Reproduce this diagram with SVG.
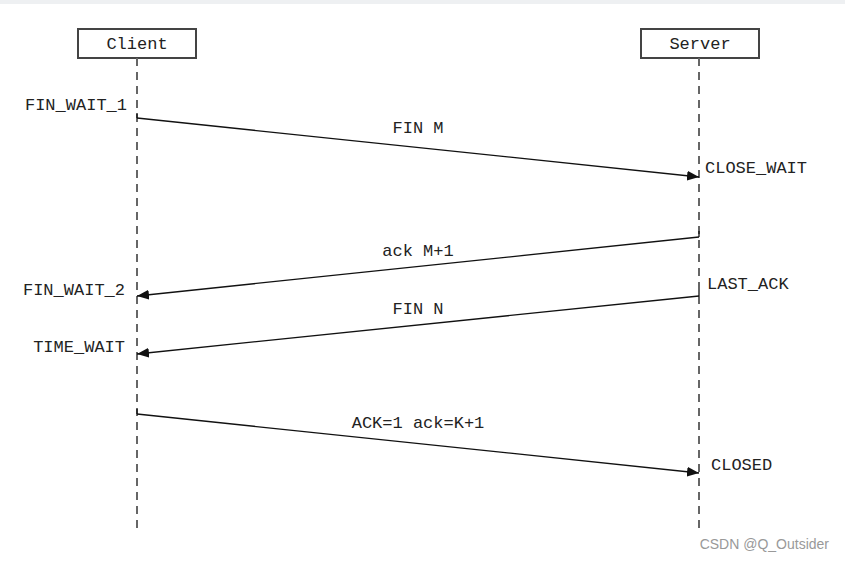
<svg xmlns="http://www.w3.org/2000/svg" width="845" height="561" viewBox="0 0 845 561">
<defs>
<style>
text{font-family:"Liberation Mono",monospace;font-size:17px;fill:#222}
.box{fill:#fff;stroke:#444;stroke-width:2}
.life{stroke:#666;stroke-width:2;stroke-dasharray:8,6;fill:none}
.msg{stroke:#111;stroke-width:1.3;fill:none;marker-end:url(#ah)}
.tick{stroke:#111;stroke-width:1.3;fill:none}
</style>
<marker id="ah" markerWidth="12" markerHeight="10" refX="12" refY="5" orient="auto" markerUnits="userSpaceOnUse"><path d="M0,0 L12,5 L0,10 z" fill="#111"/></marker>
</defs>
<rect width="845" height="561" fill="#fff"/>
<rect width="845" height="4" fill="#eef0f2"/>
<g id="client"><rect class="box" x="78" y="29" width="118" height="29"/><text x="137" y="49" text-anchor="middle">Client</text><line class="life" x1="137" y1="58" x2="137" y2="533"/></g>
<g id="server"><rect class="box" x="641" y="29" width="118" height="29"/><text x="700" y="49" text-anchor="middle">Server</text><line class="life" x1="699" y1="58" x2="699" y2="533"/></g>
<g id="connectors">
<path class="tick" d="M137,113 V118"/>
<line class="msg" x1="137" y1="118" x2="699" y2="177"/>
<path class="tick" d="M699,231 V237"/>
<line class="msg" x1="699" y1="237" x2="137" y2="296"/>
<path class="tick" d="M699,290 V296"/>
<line class="msg" x1="699" y1="296" x2="137" y2="354"/>
<path class="tick" d="M137,409 V414"/>
<line class="msg" x1="137" y1="414" x2="699" y2="473"/>
</g>
<g id="labels">
<text x="418" y="133" text-anchor="middle">FIN M</text>
<text x="418" y="256" text-anchor="middle">ack M+1</text>
<text x="418" y="314" text-anchor="middle">FIN N</text>
<text x="418" y="428" text-anchor="middle">ACK=1 ack=K+1</text>
<text x="127" y="110" text-anchor="end">FIN_WAIT_1</text>
<text x="125" y="295" text-anchor="end">FIN_WAIT_2</text>
<text x="125" y="352" text-anchor="end">TIME_WAIT</text>
<text x="705" y="173">CLOSE_WAIT</text>
<text x="707" y="289">LAST_ACK</text>
<text x="711" y="470">CLOSED</text>
</g>
<text x="829" y="549" text-anchor="end" style="font-family:'Liberation Sans',sans-serif;font-size:14px;fill:#999">CSDN @Q_Outsider</text>
</svg>
